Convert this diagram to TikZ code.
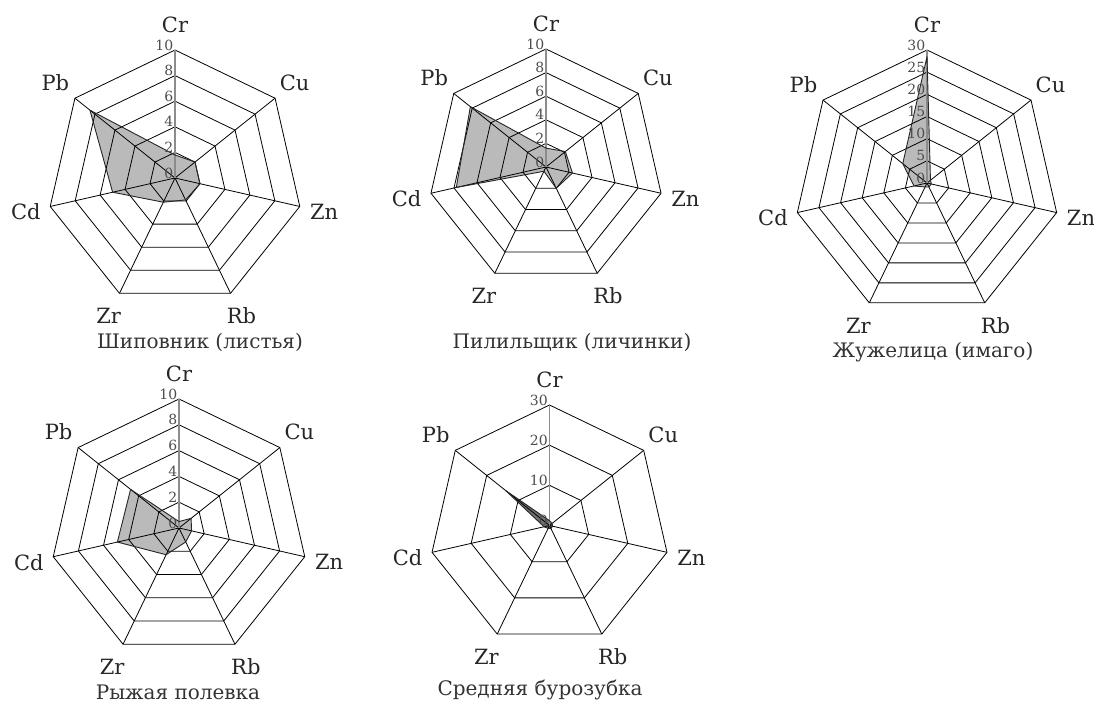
\documentclass[tikz,border=0pt]{standalone}
\usepackage{fontspec}
\setmainfont{DejaVu Serif}
\usetikzlibrary{calc}

\tikzset{
	web line/.style={black, line width=0.8pt},
	cr axis/.style={black!45, line width=1.8pt},
	data fill/.style={fill=black!27},
	data line/.style={black!85, line width=0.9pt, line join=round},
	elem label/.style={font=\fontsize{21}{21}\selectfont, inner sep=0pt, text=black!85},
	tick label/.style={font=\fontsize{14}{14}\selectfont, text=black!70, inner sep=0.5pt, anchor=east},
	chart title/.style={font=\fontsize{20}{20}\selectfont, text=black!80}
}

% #1 name, #2 centre, #3 radius, #4 rings, #5 max value, #6 ticks, #7 values, #8 title, #9 title position
\newcommand{\drawRadar}[9]{
	\begin{scope}[shift={(#2)}]
		\coordinate (#1) at (0,0);
		\foreach \el [count=\k from 0] in {Cr,Cu,Zn,Rb,Zr,Cd,Pb}
			\coordinate (#1-\el) at ({90-\k*360/7}:#3);
		\foreach \v [count=\k from 0] in {#7}
			\coordinate (#1-v\k) at ({90-\k*360/7}:{\v*#3/#5});
		\fill[data fill] (#1-v0) -- (#1-v1) -- (#1-v2) -- (#1-v3) -- (#1-v4) -- (#1-v5) -- (#1-v6) -- cycle;
		\foreach \l in {1,...,#4}
			\draw[web line] (90:{\l*#3/#4}) \foreach \k in {1,...,6} { -- ({90-\k*360/7}:{\l*#3/#4}) } -- cycle;
		\foreach \el in {Cu,Zn,Rb,Zr,Cd,Pb}
			\draw[web line] (#1) -- (#1-\el);
		\draw[cr axis] (#1) -- (#1-Cr);
		\draw[data line] (#1-v0) -- (#1-v1) -- (#1-v2) -- (#1-v3) -- (#1-v4) -- (#1-v5) -- (#1-v6) -- cycle;
		\foreach \t [count=\k from 0] in {#6}
			\node[tick label] (#1-t\k) at (-1, {\k*#3/#4+5}) {\t};
		\foreach \el [count=\k from 0] in {Cr,Cu,Zn,Rb,Zr,Cd,Pb}
			\node[elem label] (#1-l\k) at ({90-\k*360/7}:{#3+25}) {\el};
	\end{scope}
	\node[chart title] (#1-title) at (#9) {#8};
}

\begin{document}
\begin{tikzpicture}[x=1pt, y=1pt]
	\useasboundingbox (0,0) rectangle (1094,705);

	\coordinate (C1) at (175,527);
	\coordinate (C2) at (546,538);
	\coordinate (C3) at (927,522);
	\coordinate (C4) at (179,177);
	\coordinate (C5) at (549.5,179.5);

	\coordinate (T1) at (200,363);
	\coordinate (T2) at (572,363);
	\coordinate (T3) at (933,353);
	\coordinate (T4) at (178,13);
	\coordinate (T5) at (540,15);

	\drawRadar{rose}{C1}{128}{5}{10}{0,2,4,6,8,10}{1.8,2.0,2.0,1.9,2.1,5.0,8.5}{Шиповник (листья)}{T1}
	\drawRadar{sawfly}{C2}{118}{5}{10}{0,2,4,6,8,10}{1.6,2.1,2.3,2.0,0.4,7.8,8.2}{Пилильщик (личинки)}{T2}
	\drawRadar{beetle}{C3}{133}{6}{30}{0,5,10,15,20,25,30}{28.5,1,1,1,1,3,7}{Жужелица (имаго)}{T3}
	\drawRadar{vole}{C4}{129}{5}{10}{0,2,4,6,8,10}{0.5,1.2,1.0,1.2,2.3,4.9,4.8}{Рыжая полевка}{T4}
	\begin{scope}[data fill/.style={fill=black!55}]
		\drawRadar{shrew}{C5}{120.5}{3}{30}{0,10,20,30}{1.2,0.8,0.8,0.8,0.8,1.4,14}{Средняя бурозубка}{T5}
	\end{scope}
\end{tikzpicture}
\end{document}
